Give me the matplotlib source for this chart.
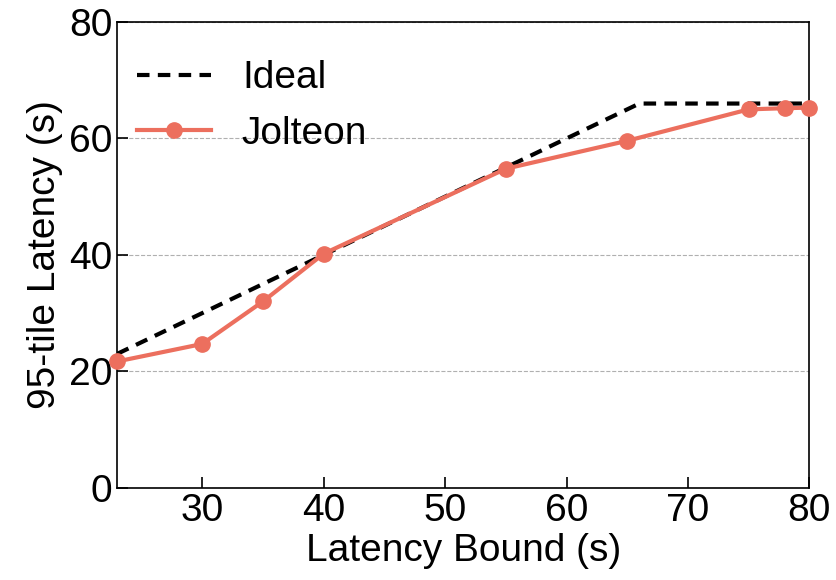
import matplotlib
matplotlib.use("Agg")
import matplotlib.pyplot as plt

# latency bound (s) vs measured 95th percentile latency (s)
ideal_x = [23, 66, 80]
ideal_y = [23, 66, 66]
bound = [23, 30, 35, 40, 55, 65, 75, 78, 80]
jolteon = [21.7, 24.7, 32.0, 40.2, 54.8, 59.6, 65.0, 65.2, 65.3]

plt.rcParams['font.family'] = ['Liberation Sans', 'DejaVu Sans']

fig, ax = plt.subplots(figsize=(8.37, 5.8), dpi=100)
ax.plot(ideal_x, ideal_y, '--', color='black', lw=3, label='Ideal', dashes=(3, 2))
ax.plot(bound, jolteon, '-o', color='#ec6f5e', lw=3, ms=11, label='Jolteon', clip_on=False, zorder=3)

ax.set_xlim(23, 80)
ax.set_ylim(0, 80)
ax.set_xticks([30, 40, 50, 60, 70, 80])
ax.set_yticks([0, 20, 40, 60, 80])
ax.tick_params(direction='in', labelsize=28, length=8, width=1.2, top=False, right=False)
ax.yaxis.grid(True, ls='--', color='#b0b0b0', lw=0.8)
ax.set_axisbelow(True)
ax.set_xlabel('Latency Bound (s)', fontsize=28, labelpad=3)
ax.set_ylabel('95-tile Latency (s)', fontsize=28, labelpad=4)
for s in ax.spines.values():
    s.set_linewidth(1.2)
ax.legend(loc='upper left', bbox_to_anchor=(0.006, 0.951), fontsize=28, frameon=False,
          handlelength=1.9, borderaxespad=0, labelspacing=0.5)

fig.subplots_adjust(left=0.14, right=0.967, top=0.962, bottom=0.159)
fig.savefig('out.png')
